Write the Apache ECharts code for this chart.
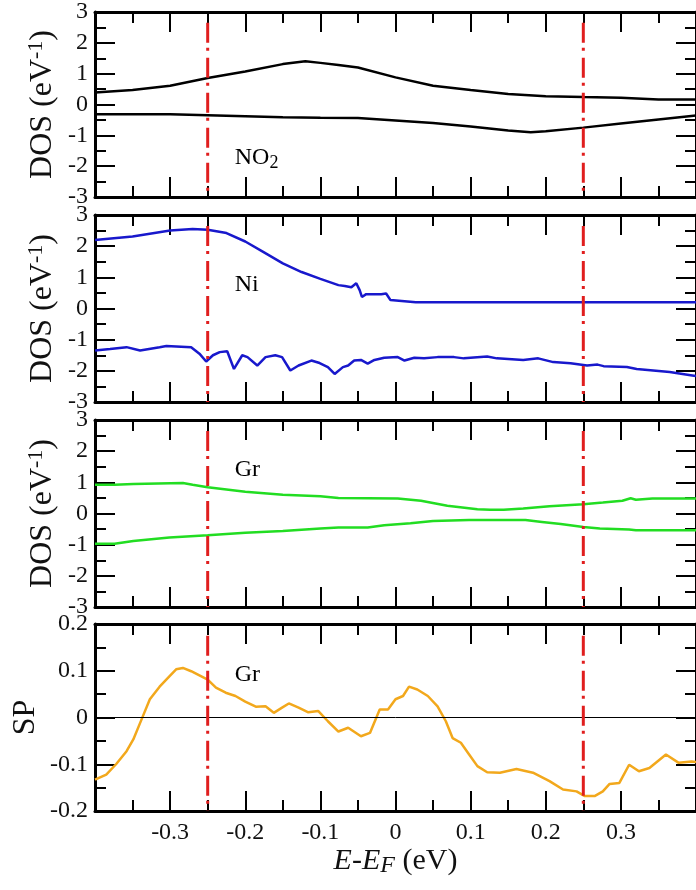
<!DOCTYPE html>
<html>
<head>
<meta charset="utf-8">
<script src="https://cdn.jsdelivr.net/npm/echarts@6/dist/echarts.min.js"></script>
<style>
html, body { margin: 0; padding: 0; background: #fff; }
#main { width: 696px; height: 890px; }
</style>
</head>
<body>
<div id="main"></div>
<script>
var FONT = 'Liberation Serif';

// [E - E_F (eV), DOS (1/eV)]
var no2Up = [[-0.4,0.39],[-0.35,0.47],[-0.3,0.61],[-0.25,0.86],[-0.2,1.07],[-0.15,1.31],[-0.12,1.40],
  [-0.1,1.35],[-0.076,1.28],[-0.05,1.2],[0,0.88],[0.05,0.61],[0.1,0.47],[0.15,0.34],[0.2,0.27],
  [0.25,0.24],[0.3,0.22],[0.35,0.16],[0.4,0.16]];
var no2Down = [[-0.4,-0.32],[-0.3,-0.32],[-0.25,-0.35],[-0.2,-0.38],[-0.15,-0.41],[-0.1,-0.43],
  [-0.05,-0.44],[0,-0.52],[0.05,-0.6],[0.1,-0.71],[0.15,-0.84],[0.18,-0.9],[0.2,-0.87],[0.25,-0.75],
  [0.3,-0.62],[0.35,-0.49],[0.4,-0.36]];

var niUp = [[-0.4,2.2],[-0.35,2.31],[-0.3,2.5],[-0.27,2.55],[-0.25,2.53],[-0.225,2.42],[-0.2,2.15],
  [-0.175,1.8],[-0.15,1.45],[-0.125,1.17],[-0.1,0.95],[-0.076,0.75],[-0.0675,0.72],[-0.0588,0.68],
  [-0.0522,0.81],[-0.0477,0.59],[-0.0447,0.37],[-0.039,0.46],[-0.019,0.46],[-0.0125,0.48],
  [-0.0094,0.37],[-0.0067,0.27],[0.027,0.2],[0.4,0.2]];
var niDown = [[-0.4,-1.35],[-0.38,-1.3],[-0.358,-1.24],[-0.34,-1.35],[-0.314,-1.24],[-0.305,-1.2],
  [-0.272,-1.24],[-0.261,-1.45],[-0.252,-1.7],[-0.243,-1.5],[-0.234,-1.4],[-0.224,-1.37],[-0.215,-1.94],
  [-0.204,-1.5],[-0.197,-1.56],[-0.184,-1.83],[-0.173,-1.56],[-0.16,-1.5],[-0.151,-1.56],[-0.14,-1.99],
  [-0.129,-1.83],[-0.112,-1.67],[-0.101,-1.75],[-0.09,-1.88],[-0.081,-2.1],[-0.07,-1.88],[-0.063,-1.83],
  [-0.055,-1.67],[-0.046,-1.65],[-0.037,-1.77],[-0.028,-1.65],[-0.015,-1.58],[0.003,-1.56],[0.012,-1.67],
  [0.025,-1.58],[0.038,-1.6],[0.056,-1.56],[0.078,-1.56],[0.091,-1.6],[0.122,-1.54],[0.135,-1.6],
  [0.17,-1.65],[0.19,-1.6],[0.21,-1.72],[0.233,-1.76],[0.255,-1.83],[0.269,-1.8],[0.277,-1.85],
  [0.308,-1.88],[0.321,-1.94],[0.365,-2.04],[0.395,-2.15],[0.4,-2.17]];

var grUp = [[-0.4,0.92],[-0.374,0.92],[-0.349,0.95],[-0.283,0.98],[-0.27,0.92],[-0.25,0.84],[-0.2,0.7],
  [-0.15,0.6],[-0.1,0.55],[-0.076,0.5],[0.003,0.48],[0.034,0.41],[0.069,0.25],[0.109,0.14],[0.126,0.12],
  [0.144,0.12],[0.17,0.16],[0.205,0.23],[0.25,0.3],[0.276,0.35],[0.302,0.41],[0.313,0.49],[0.32,0.44],
  [0.342,0.48],[0.4,0.48]];
var grDown = [[-0.4,-0.97],[-0.374,-0.97],[-0.349,-0.88],[-0.301,-0.77],[-0.25,-0.7],[-0.2,-0.62],
  [-0.15,-0.56],[-0.1,-0.48],[-0.076,-0.45],[-0.037,-0.45],[-0.015,-0.38],[0.02,-0.31],[0.05,-0.24],
  [0.098,-0.21],[0.173,-0.21],[0.195,-0.27],[0.22,-0.34],[0.25,-0.43],[0.272,-0.48],[0.311,-0.51],
  [0.32,-0.54],[0.4,-0.54]];

// spin polarization of graphene
var grSP = [[-0.4,-0.133],[-0.385,-0.122],[-0.372,-0.10],[-0.358,-0.072],[-0.349,-0.047],[-0.338,-0.004],
  [-0.327,0.039],[-0.314,0.066],[-0.301,0.088],[-0.292,0.103],[-0.283,0.106],[-0.272,0.099],[-0.261,0.09],
  [-0.25,0.081],[-0.239,0.064],[-0.226,0.053],[-0.213,0.046],[-0.2,0.034],[-0.186,0.023],[-0.173,0.024],
  [-0.162,0.01],[-0.151,0.021],[-0.142,0.03],[-0.129,0.021],[-0.116,0.011],[-0.103,0.014],[-0.09,-0.008],
  [-0.076,-0.03],[-0.063,-0.022],[-0.046,-0.04],[-0.034,-0.033],[-0.021,0.017],[-0.01,0.017],[0,0.039],
  [0.01,0.046],[0.018,0.066],[0.029,0.06],[0.043,0.046],[0.056,0.024],[0.067,-0.008],[0.076,-0.044],
  [0.087,-0.054],[0.098,-0.079],[0.109,-0.104],[0.122,-0.117],[0.139,-0.118],[0.161,-0.11],[0.183,-0.118],
  [0.205,-0.136],[0.223,-0.154],[0.241,-0.158],[0.252,-0.168],[0.265,-0.168],[0.276,-0.158],[0.285,-0.142],
  [0.298,-0.14],[0.311,-0.101],[0.324,-0.115],[0.338,-0.108],[0.36,-0.079],[0.377,-0.097],[0.394,-0.094],
  [0.4,-0.095]];

// dash-dot guides at +-0.25 eV
var guideE = [-0.25, 0.25];
var guideTop = [2.65, 2.65, 2.65, 0.175];
var guideBottom = [-3, -3, -3, -0.2];

var panelTops = [10, 215, 420, 624];
var panelH = 187;

function fmt(v) { return String(+v.toFixed(2)); }

var tickStyle = { color: '#000', width: 2 };
var grids = [], xAxes = [], yAxes = [], series = [];

panelTops.forEach(function (top, i) {
  grids.push({ left: 95, right: -5, top: top, height: panelH });
  var isSP = i === 3;
  var common = {
    gridIndex: i, type: 'value',
    axisLine: { onZero: false, lineStyle: { color: '#000', width: 3 } },
    axisTick: { inside: true, length: 20, lineStyle: tickStyle },
    minorTick: { show: true, splitNumber: 2, length: 11, lineStyle: tickStyle },
    splitLine: { show: false }, minorSplitLine: { show: false }
  };
  var xc = Object.assign({}, common, { min: -0.4, max: 0.4, interval: 0.1 });
  xAxes.push(Object.assign({}, xc, {
    position: 'bottom',
    axisLabel: {
      show: isSP, margin: 10, showMinLabel: false, showMaxLabel: false,
      fontFamily: FONT, fontSize: 24, color: '#111', formatter: fmt
    },
    name: isSP ? '{i|E}{m|-}{i|E}{s|F}{m| (eV)}' : '',
    nameLocation: 'middle', nameGap: 35, nameMoveOverlap: false,
    nameTextStyle: {
      rich: {
        i: { fontFamily: FONT, fontStyle: 'italic', fontSize: 30, lineHeight: 32, verticalAlign: 'top', color: '#111' },
        m: { fontFamily: FONT, fontSize: 30, lineHeight: 32, verticalAlign: 'top', color: '#111' },
        s: { fontFamily: FONT, fontStyle: 'italic', fontSize: 24, lineHeight: 24, padding: [19, 0, 0, 0], verticalAlign: 'bottom', color: '#111' }
      }
    }
  }));
  xAxes.push(Object.assign({}, xc, { position: 'top', axisLabel: { show: false } }));

  var yc = Object.assign({}, common, isSP ? { min: -0.2, max: 0.2, interval: 0.1 } : { min: -3, max: 3, interval: 1 });
  yAxes.push(Object.assign({}, yc, {
    position: 'left',
    axisLabel: { margin: 7, fontFamily: FONT, fontSize: 24, color: '#111', formatter: fmt },
    name: isSP ? '{m|SP}' : '{m|DOS (eV}{s|-1}{m|)}',
    nameLocation: 'middle', nameRotate: 90, nameGap: isSP ? 53 : 36, nameMoveOverlap: false,
    nameTextStyle: {
      rich: {
        m: { fontFamily: FONT, fontSize: 32, lineHeight: 34, verticalAlign: 'bottom', color: '#111' },
        s: { fontFamily: FONT, fontSize: 22, lineHeight: 22, padding: [0, 0, 15, 0], verticalAlign: 'top', color: '#111' }
      }
    }
  }));
  yAxes.push(Object.assign({}, yc, { position: 'right', axisLabel: { show: false } }));
});

function curve(data, panel, color) {
  return {
    type: 'line', data: data, xAxisIndex: panel * 2, yAxisIndex: panel * 2,
    showSymbol: false, symbol: 'none', silent: true, z: 3,
    lineStyle: { color: color, width: 2.5 }
  };
}

series.push(curve(no2Up, 0, '#000'));
series.push(curve(no2Down, 0, '#000'));
series.push(curve(niUp, 1, '#1818cc'));
series.push(curve(niDown, 1, '#1818cc'));
series.push(curve(grUp, 2, '#22dd22'));
series.push(curve(grDown, 2, '#22dd22'));
var sp = curve(grSP, 3, '#f2a81c');
sp.markLine = {
  silent: true, symbol: 'none', animation: false, label: { show: false },
  lineStyle: { color: '#000', width: 1, type: 'solid' },
  data: [{ yAxis: 0 }]
};
series.push(sp);

for (var p = 0; p < 4; p++) {
  guideE.forEach(function (e) {
    series.push({
      type: 'line', xAxisIndex: p * 2, yAxisIndex: p * 2, z: 5,
      data: [[e, guideTop[p]], [e, guideBottom[p]]],
      showSymbol: false, symbol: 'none', silent: true,
      lineStyle: { color: '#e01e1e', width: 3, type: [20, 5, 3, 7] }
    });
  });
}

// panel captions
function caption(panel, pos, text, rich) {
  return {
    type: 'scatter', xAxisIndex: panel * 2, yAxisIndex: panel * 2, symbolSize: 0, silent: true, z: 6,
    data: [pos],
    itemStyle: { opacity: 1, color: '#000' },
    label: { show: true, position: 'right', distance: 0, formatter: text, rich: rich,
      fontFamily: FONT, fontSize: 24, color: '#000', opacity: 1 }
  };
}
series.push(caption(0, [-0.214, -1.76], '{m|NO}{s|2}', {
  m: { fontFamily: FONT, fontSize: 24, lineHeight: 26, verticalAlign: 'top', color: '#000' },
  s: { fontFamily: FONT, fontSize: 18, lineHeight: 18, padding: [16, 0, 0, 0], verticalAlign: 'bottom', color: '#000' }
}));
series.push(caption(1, [-0.214, 0.75], 'Ni'));
series.push(caption(2, [-0.214, 1.41], 'Gr'));
series.push(caption(3, [-0.214, 0.091], 'Gr'));

var myChart = echarts.init(document.getElementById('main'));
myChart.setOption({
  animation: false,
  backgroundColor: '#fff',
  textStyle: { fontFamily: FONT },
  grid: grids,
  xAxis: xAxes,
  yAxis: yAxes,
  series: series
});
</script>
</body>
</html>
